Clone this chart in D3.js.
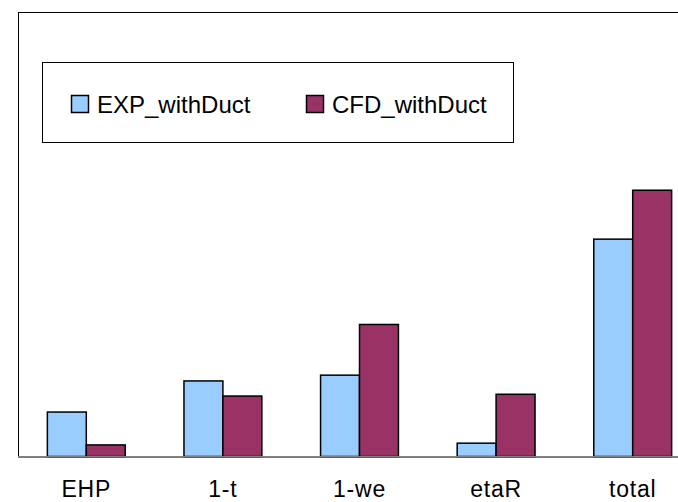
<!DOCTYPE html>
<html>
<head>
<meta charset="utf-8">
<script src="https://cdn.jsdelivr.net/npm/d3@7"></script>
<style>
  html, body { margin: 0; padding: 0; background: #fff; overflow: hidden; }
  svg { display: block; font-family: "Liberation Sans", Arial, sans-serif; }
</style>
</head>
<body>
<script>
const categories = ["EHP", "1-t", "1-we", "etaR", "total"];
const categoryLabels = ["EHP", "1-t", "1-we", "etaR", "total"];
const seriesNames = ["EXP_withDuct", "CFD_withDuct"];
const expValues = [1.00, 1.70, 1.83, 0.30, 4.89];
const cfdValues = [0.26, 1.36, 2.97, 1.40, 5.99];
const seriesColors = ["#99CCFF", "#993366"];

const W = 678, H = 502;
const plot = { left: 18, top: 12, right: 701, bottom: 456.5 };

const svg = d3.select("body").append("svg").attr("width", W).attr("height", H);

const x = d3.scaleBand().domain(categories).range([plot.left, plot.right])
  .paddingInner(0.43).paddingOuter(0.215);
const xs = d3.scaleBand().domain(seriesNames).range([0, x.bandwidth()]);
const y = d3.scaleLinear().domain([0, 10]).range([plot.bottom, plot.top]);

// plot area border
svg.append("rect")
  .attr("x", plot.left + 0.5).attr("y", plot.top + 0.5)
  .attr("width", plot.right - plot.left).attr("height", plot.bottom - plot.top)
  .attr("fill", "none").attr("stroke", "#000").attr("stroke-width", 1);

const data = categories.map((c, i) => ({ cat: c, vals: [expValues[i], cfdValues[i]] }));

const g = svg.append("g");
data.forEach(d => {
  d.vals.forEach((v, j) => {
    g.append("rect")
      .attr("x", x(d.cat) + xs(seriesNames[j]))
      .attr("y", y(v))
      .attr("width", xs.bandwidth())
      .attr("height", y(0) - y(v))
      .attr("fill", seriesColors[j])
      .attr("stroke", "#000")
      .attr("stroke-width", 1.5);
  });
});

// baseline
svg.append("line")
  .attr("x1", plot.left).attr("x2", W)
  .attr("y1", y(0)).attr("y2", y(0))
  .attr("stroke", "#808080").attr("stroke-width", 1.2);

// category labels
svg.append("g").selectAll("text").data(categories).join("text")
  .attr("x", d => x(d) + x.bandwidth() / 2)
  .attr("y", 496.5)
  .attr("text-anchor", "middle")
  .attr("font-size", 23)
  .attr("letter-spacing", 0.8)
  .attr("fill", "#000")
  .text((d, i) => categoryLabels[i]);

// legend
const lg = svg.append("g");
lg.append("rect")
  .attr("x", 42.5).attr("y", 62.5).attr("width", 471).attr("height", 80)
  .attr("fill", "#fff").attr("stroke", "#000").attr("stroke-width", 1);
const legendX = [71, 306];
seriesNames.forEach((s, j) => {
  lg.append("rect")
    .attr("x", legendX[j] + 0.5).attr("y", 95.5)
    .attr("width", 17).attr("height", 17)
    .attr("fill", seriesColors[j]).attr("stroke", "#000").attr("stroke-width", 1.5);
  lg.append("text")
    .attr("x", legendX[j] + 26).attr("y", 113)
    .attr("font-size", 24)
    .attr("fill", "#000")
    .text(s);
});
</script>
</body>
</html>
